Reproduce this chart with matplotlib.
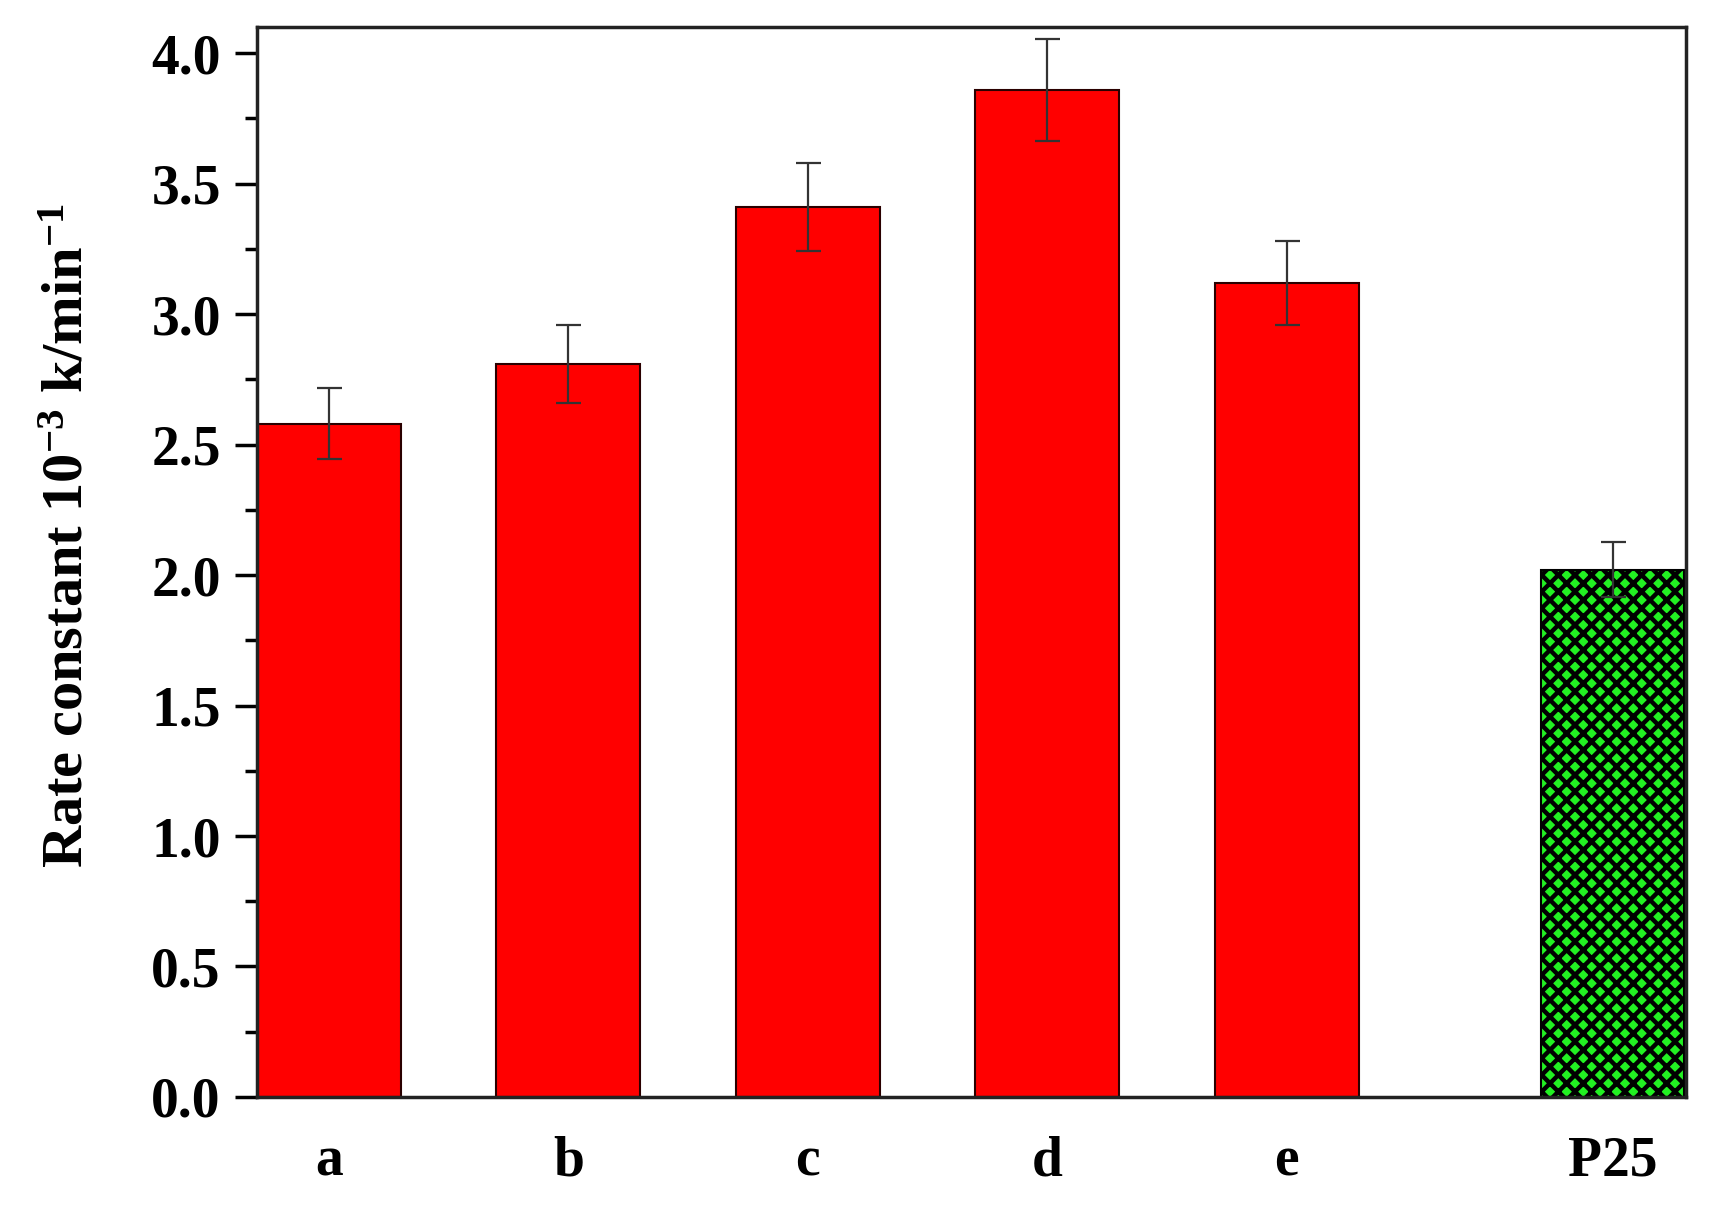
import numpy as np
import matplotlib
matplotlib.use("Agg")
import matplotlib.pyplot as plt
from matplotlib.ticker import MultipleLocator

plt.rcParams['font.family'] = ['Liberation Serif', 'DejaVu Serif']
plt.rcParams['font.weight'] = 'bold'
plt.rcParams['mathtext.fontset'] = 'custom'
plt.rcParams['mathtext.rm'] = 'Liberation Serif:bold'
plt.rcParams['mathtext.default'] = 'rm'
plt.rcParams['hatch.linewidth'] = 3.2

# data
samples = ['a', 'b', 'c', 'd', 'e', 'P25']
positions = [0, 1, 2, 3, 4, 5.36]
rate = [2.58, 2.81, 3.41, 3.86, 3.12, 2.02]
err = [0.135, 0.15, 0.17, 0.195, 0.16, 0.105]

fig = plt.figure(figsize=(17.13, 12.12), dpi=100)
ax = fig.add_axes([0.150, 0.0949, 0.834, 0.8828])

colors = ['#ff0000'] * 5 + ['#22f022']
bars = ax.bar(positions, rate, width=0.6, color=colors, edgecolor='#2a0000',
              linewidth=1.5, zorder=2)
bars[-1].set_hatch('xx')
bars[-1].set_edgecolor('black')

ax.errorbar(positions, rate, yerr=err, fmt='none', ecolor='#333333',
            elinewidth=1.6, capsize=9, capthick=1.6, zorder=3)

ax.set_xlim(-0.3, 5.665)
ax.set_ylim(0, 4.1)
ax.set_xticks(positions)
ax.set_xticklabels(samples)
ax.yaxis.set_major_locator(MultipleLocator(0.5))
ax.yaxis.set_minor_locator(MultipleLocator(0.25))
ax.yaxis.set_major_formatter(matplotlib.ticker.FormatStrFormatter('%.1f'))

ax.tick_params(axis='x', length=0, pad=28, labelsize=40)
ax.tick_params(axis='y', which='major', direction='out', length=16, width=2.5,
               pad=10, labelsize=40)
ax.tick_params(axis='y', which='minor', direction='out', length=9, width=2.5)

for s in ax.spines.values():
    s.set_linewidth(2.5)
    s.set_color('#222222')

ax.set_ylabel(r'Rate constant 10$^{-3}$ k/min$^{-1}$', fontsize=42,
              fontweight='bold')
ax.yaxis.set_label_coords(-0.114, 0.525)

fig.savefig('out.png', dpi=100)
